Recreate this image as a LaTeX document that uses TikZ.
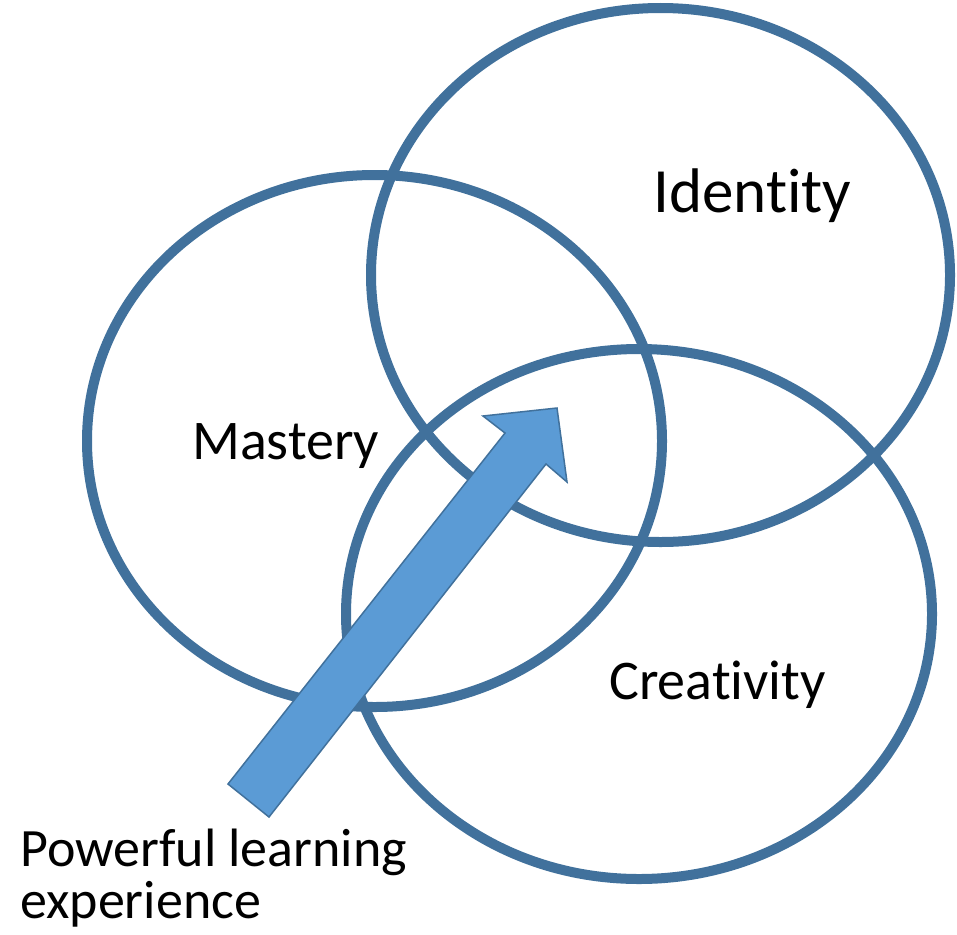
\documentclass[tikz,border=0pt]{standalone}
\usepackage{fontspec}
\setmainfont[Ligatures=NoCommon]{Carlito}
\definecolor{ring}{HTML}{41719C}
\definecolor{arrowfill}{HTML}{5B9BD5}
\begin{document}
\begin{tikzpicture}[x=1pt,y=-1pt,
  ringstyle/.style={draw=ring,line width=10pt},
  lbl/.style={font=\fontsize{56}{52}\selectfont,inner sep=0pt,anchor=base west,text=black},
  bigarrow/.style={fill=arrowfill,draw=ring,line width=1.5pt,line join=miter}]
\useasboundingbox (0,0) rectangle (957,934);
\draw[ringstyle] (374.5,441) ellipse [x radius=287.5, y radius=266];
\draw[ringstyle] (660.5,275) ellipse [x radius=289.5, y radius=267];
\draw[ringstyle] (639,614) ellipse [x radius=293, y radius=265];
\draw[bigarrow] (228,784) -- (505,433) -- (483,416) -- (557,408) -- (567,482) -- (546,464) -- (269,817) -- cycle;
\node[lbl,font=\fontsize{63}{63}\selectfont] (identity) at (653,212) {Identity};
\node[lbl] (mastery) at (192,459) {Mastery};
\node[lbl] (creativity) at (609,699) {Creativity};
\node[lbl,align=left,font=\fontsize{54}{52}\selectfont] (ple) at (20,918) {Powerful learning\\experience};
\end{tikzpicture}
\end{document}
